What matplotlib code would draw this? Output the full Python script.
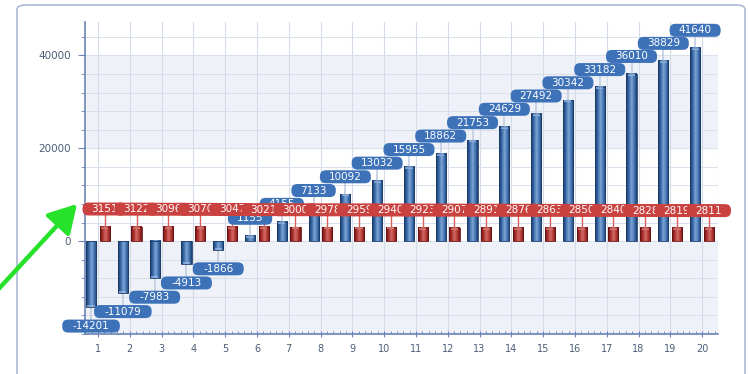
import matplotlib
matplotlib.use('Agg')
import matplotlib.pyplot as plt
import matplotlib.patches as patches
import matplotlib.transforms as mtransforms
from matplotlib.colors import LinearSegmentedColormap
from matplotlib.ticker import MultipleLocator
import numpy as np

# data
categories = list(range(1, 21))
blue_values = [-14201, -11079, -7983, -4913, -1866, 1155, 4155, 7133, 10092, 13032,
               15955, 18862, 21753, 24629, 27492, 30342, 33182, 36010, 38829, 41640]
red_values = [3151, 3122, 3096, 3070, 3047, 3021, 3000, 2978, 2959, 2940,
              2923, 2907, 2891, 2876, 2863, 2850, 2840, 2828, 2819, 2811]
y_ticks = [0, 20000, 40000]

W, H = 748, 374
fig = plt.figure(figsize=(W / 100, H / 100), dpi=100)
fig.patch.set_facecolor('white')

# outer rounded frame (behind the axes)
frame = patches.FancyBboxPatch((17 / W, -0.05), (745 - 17) / W, 1.05 - 5 / H,
                               boxstyle='round,pad=0,rounding_size=0.012',
                               transform=fig.transFigure, facecolor='white',
                               edgecolor='#a9bad6', linewidth=1.2, zorder=-5)
fig.patches.append(frame)

ax = fig.add_axes([85 / W, 1 - 334 / H, (718 - 85) / W, (334 - 22) / H])
ax.set_facecolor('white')

XMIN, XMAX = 0.59, 20.5
YMIN, YMAX = -20000, 47200
PX_Y = (YMAX - YMIN) / (334 - 22)   # data units per pixel (y)

# background bands
ax.axhspan(-20000, 0, color='#eef1f7', zorder=0)
ax.axhspan(20000, 40000, color='#eef1f7', zorder=0)

# grid
for x in categories:
    ax.axvline(x, color='#d3dae8', linewidth=0.8, zorder=0.5)
ax.axvline(XMAX, color='#d3dae8', linewidth=0.8, zorder=0.5)
for y in np.arange(-20000, 48000, 4000):
    ax.axhline(y, color='#d9dfeb', linewidth=0.7, zorder=0.5)

blue_cmap = LinearSegmentedColormap.from_list(
    'blue_bar', ['#173a68', '#3566a4', '#7ea5d6', '#4677b5', '#1a3e6e'])
red_cmap = LinearSegmentedColormap.from_list(
    'red_bar', ['#6e1414', '#a8302c', '#d66a64', '#b03a35', '#721616'])
grad = np.linspace(0, 1, 64).reshape(1, -1)

BAR_W = 0.32
BLUE_OFF = -0.22
RED_OFF = 0.21


def gradient_bar(x, value, cmap, edge, cap):
    x0, x1 = x - BAR_W / 2, x + BAR_W / 2
    y0, y1 = min(0, value), max(0, value)
    ax.imshow(grad, extent=[x0, x1, y0, y1], aspect='auto', cmap=cmap,
              interpolation='bilinear', zorder=3)
    ax.add_patch(patches.Rectangle((x0, y0), BAR_W, y1 - y0, fill=False,
                                   edgecolor=edge, linewidth=0.6, zorder=3.1))
    # light cap at the outer end of the bar
    cap_h = 2 * PX_Y
    cy = y1 - cap_h if value >= 0 else y0
    ax.add_patch(patches.Rectangle((x0 + BAR_W * 0.15, cy), BAR_W * 0.7, cap_h,
                                   facecolor=cap, edgecolor='none', alpha=0.7, zorder=3.2))


def draw_label(x, y, text, color, z):
    w = (18 + 6.6 * len(text)) / 100
    h = 13 / 100
    r = 0.45 * h
    trans = fig.dpi_scale_trans + mtransforms.ScaledTranslation(x, y, ax.transData)
    box = patches.FancyBboxPatch((-w / 2 + r, -h / 2 + r), w - 2 * r, h - 2 * r,
                                 boxstyle=f'round,pad={r},rounding_size={r}',
                                 transform=trans, facecolor=color,
                                 edgecolor='none', zorder=z, clip_on=False)
    ax.add_patch(box)
    ax.text(x, y, text, ha='center', va='center', color='white', fontsize=7.5,
            family='DejaVu Sans', zorder=z + 0.05)


# blue bars and labels
for i, (x, v) in enumerate(zip(categories, blue_values)):
    bx = x + BLUE_OFF
    gradient_bar(bx, v, blue_cmap, '#1a3b68', '#9dbde6')
    if v >= 0:
        ly = v + 17.5 * PX_Y
    else:
        ly = v - 19 * PX_Y
    ax.plot([bx, bx], [v, ly], color='#c2cde0', linewidth=1.2, zorder=2.8)
    draw_label(bx, ly, str(v), '#3d72b8', 8)

# red bars and labels (each label drawn over the previous one)
for i, (x, v) in enumerate(zip(categories, red_values)):
    rx = x + RED_OFF
    gradient_bar(rx, v, red_cmap, '#6a1010', '#e08a85')
    ly = v + 17.5 * PX_Y
    ax.plot([rx, rx], [v, ly], color='#d9605b', linewidth=1.0, zorder=2.8)
    draw_label(rx, ly, str(v), '#ca4240', 10 + i * 0.1)

ax.set_xlim(XMIN, XMAX)
ax.set_ylim(YMIN, YMAX)

ax.set_xticks(categories)
ax.set_xticklabels([str(c) for c in categories])
ax.xaxis.set_minor_locator(MultipleLocator(0.2))
ax.set_yticks(y_ticks)
ax.set_yticklabels([str(t) for t in y_ticks])
ax.yaxis.set_minor_locator(MultipleLocator(4000))

axis_color = '#6a86b8'
for side in ['top', 'right']:
    ax.spines[side].set_visible(False)
for side in ['left', 'bottom']:
    ax.spines[side].set_color(axis_color)
    ax.spines[side].set_linewidth(1.2)

ax.tick_params(axis='x', which='major', direction='inout', length=5, color=axis_color,
               labelsize=7, labelcolor='#4d5d78', pad=5)
ax.tick_params(axis='x', which='minor', direction='in', length=2.5, color=axis_color)
ax.tick_params(axis='y', which='major', direction='out', length=5, color=axis_color,
               labelsize=7.5, labelcolor='#4d5d78', pad=5)
ax.tick_params(axis='y', which='minor', direction='out', length=3, color=axis_color)

# green pointer arrow
ax.annotate('', xy=(77 / W, 1 - 204 / H), xytext=(-6 / W, 1 - 294 / H),
            xycoords='figure fraction', textcoords='figure fraction',
            arrowprops=dict(arrowstyle='-|>,head_length=1.3,head_width=0.75',
                            color='#27e22a', linewidth=3.2, mutation_scale=13,
                            shrinkA=0, shrinkB=0),
            annotation_clip=False, zorder=20)

fig.savefig('out.png', dpi=100)
